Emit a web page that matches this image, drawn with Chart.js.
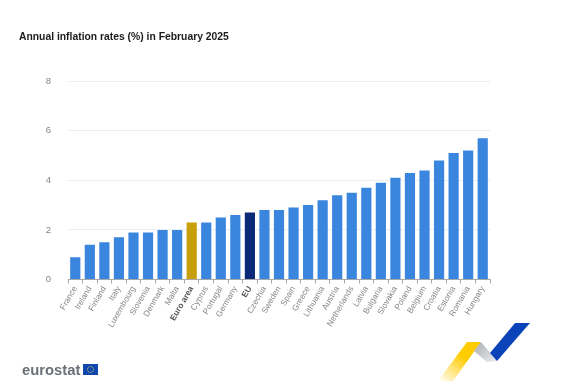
<!DOCTYPE html>
<html lang="en">
<head>
    <meta charset="UTF-8">
    <title>Annual inflation rates</title>
    <script src="https://cdn.jsdelivr.net/npm/chart.js"></script>
    <style>
        html, body { margin: 0; padding: 0; background: #fff; }
        #wrap { position: relative; width: 585px; height: 392px; overflow: hidden; }
        #logo { position: absolute; left: 22px; top: 360px; font: bold 14.8px "Liberation Sans", Arial, sans-serif; color: #6b7079; line-height: 20px; }
        #deco { position: absolute; left: 0; top: 0; }
    </style>
</head>
<body>
<div id="wrap">
    <canvas id="chart" width="585" height="392"></canvas>
    <svg id="deco" width="585" height="392">
        <defs>
            <linearGradient id="fadeYellow" x1="0" y1="1" x2="0.55" y2="0.35">
                <stop offset="0" stop-color="#ffcc00" stop-opacity="0"/>
                <stop offset="1" stop-color="#ffcc00"/>
            </linearGradient>
            <linearGradient id="fadeGrey" x1="0" y1="0" x2="1" y2="1">
                <stop offset="0" stop-color="#a9acb2"/>
                <stop offset="1" stop-color="#eceded"/>
            </linearGradient>
        </defs>
        <polygon points="438,381 467,342 481,342 453,381" fill="url(#fadeYellow)"/>
        <polygon points="481,342 497,361 487,362 474,351" fill="url(#fadeGrey)"/>
        <polygon points="515,323 530,323 497,361 490,353" fill="#0b43b8"/>
        <rect x="83" y="364" width="15" height="11" fill="#0f47af"/>
        <circle cx="90.5" cy="369.5" r="3" fill="none" stroke="#e8d44d" stroke-width="0.8" stroke-dasharray="1 0.6"/>
    </svg>
    <div id="logo">eurostat</div>
</div>
<script>
    var countries = ["France", "Ireland", "Finland", "Italy", "Luxembourg", "Slovenia", "Denmark", "Malta", "Euro area",
        "Cyprus", "Portugal", "Germany", "EU", "Czechia", "Sweden", "Spain", "Greece", "Lithuania", "Austria",
        "Netherlands", "Latvia", "Bulgaria", "Slovakia", "Poland", "Belgium", "Croatia", "Estonia", "Romania", "Hungary"];
    var rates = [0.9, 1.4, 1.5, 1.7, 1.9, 1.9, 2.0, 2.0, 2.3, 2.3, 2.5, 2.6, 2.7, 2.8, 2.8, 2.9, 3.0, 3.2, 3.4, 3.5,
        3.7, 3.9, 4.1, 4.3, 4.4, 4.8, 5.1, 5.2, 5.7];
    var yTicks = [0, 2, 4, 6, 8];

    function barColor(name) {
        if (name === "Euro area") return "#c79f0a";
        if (name === "EU") return "#0a2a78";
        return "#3a86de";
    }

    new Chart(document.getElementById("chart"), {
        type: "bar",
        data: {
            labels: countries,
            datasets: [{
                data: rates,
                backgroundColor: countries.map(barColor),
                barPercentage: 0.7,
                categoryPercentage: 1
            }]
        },
        options: {
            responsive: false,
            animation: false,
            layout: { padding: { left: 19, right: 95, top: 31, bottom: 0 } },
            plugins: {
                legend: { display: false },
                tooltip: { enabled: false },
                title: {
                    display: true,
                    text: "Annual inflation rates (%) in February 2025",
                    align: "start",
                    color: "#1b1b1b",
                    font: { family: "Liberation Sans", size: 10.35, weight: "bold", lineHeight: 1.27 },
                    padding: { top: 0, bottom: 37 }
                }
            },
            scales: {
                x: {
                    afterFit: function (scale) { scale.height = 112.5; },
                    grid: { drawOnChartArea: false, tickLength: 4, color: "#a8a8a8", offset: true },
                    border: { color: "#a8a8a8" },
                    ticks: {
                        autoSkip: false,
                        maxRotation: 60,
                        minRotation: 60,
                        padding: 1,
                        color: function (ctx) {
                            var name = countries[ctx.index];
                            return name === "Euro area" || name === "EU" ? "#555" : "#858585";
                        },
                        font: function (ctx) {
                            var name = countries[ctx.index];
                            return { family: "Liberation Sans", size: 8.3, weight: name === "Euro area" || name === "EU" ? "bold" : "normal" };
                        }
                    }
                },
                y: {
                    min: 0,
                    max: 8,
                    afterFit: function (scale) { scale.width = 49; },
                    afterBuildTicks: function (scale) { scale.ticks = yTicks.map(function (v) { return { value: v }; }); },
                    grid: { color: "#e8eff4", drawTicks: false },
                    border: { display: false },
                    ticks: {
                        padding: 17,
                        color: "#858585",
                        font: { family: "Liberation Sans", size: 9.5 }
                    }
                }
            }
        }
    });
</script>
</body>
</html>
